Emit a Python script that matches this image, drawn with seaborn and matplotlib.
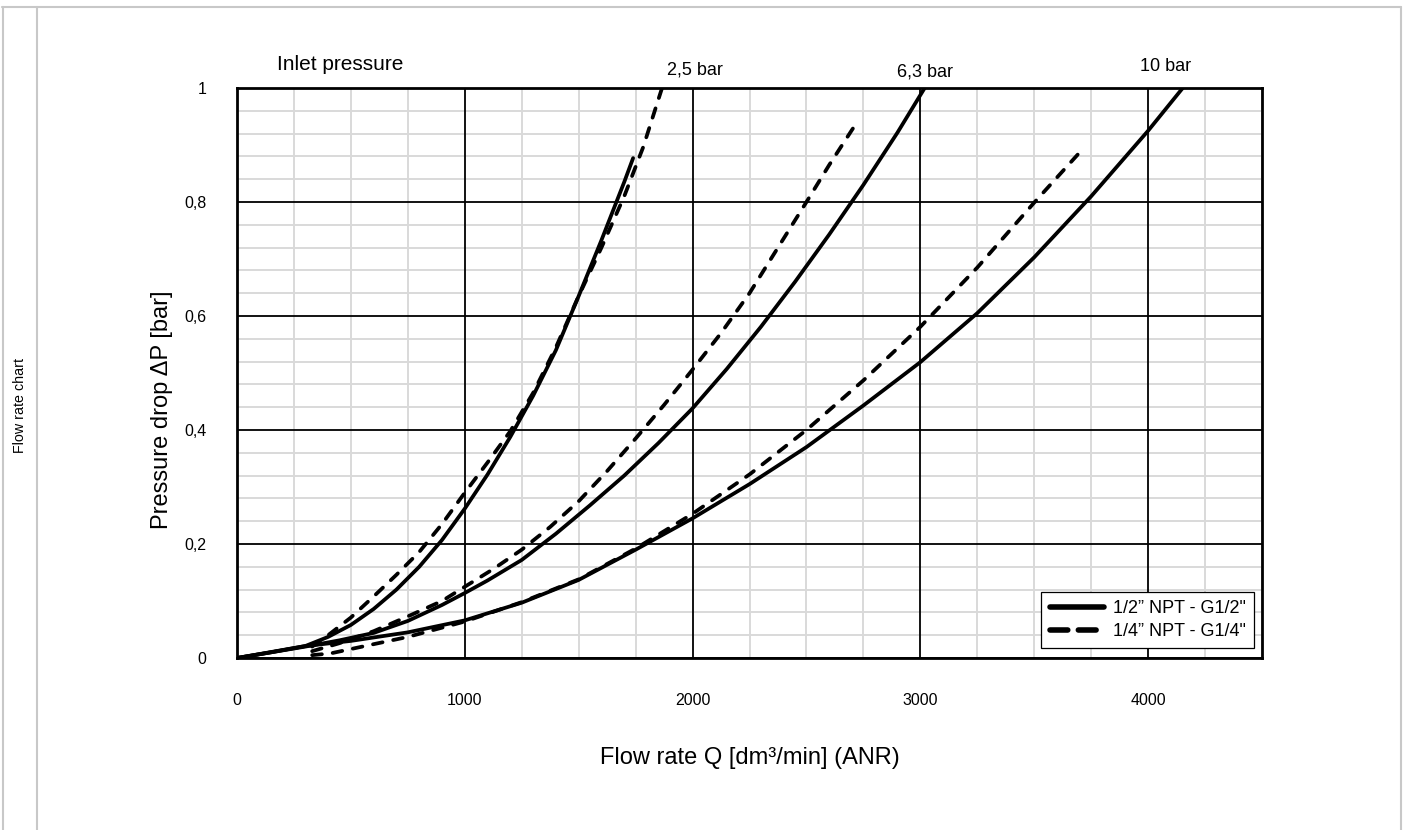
import numpy as np
import pandas as pd
import matplotlib
matplotlib.use("Agg")
import matplotlib.pyplot as plt
from matplotlib.lines import Line2D
from matplotlib.ticker import MultipleLocator, FixedLocator
import seaborn as sns

# Flow curves: flow rate Q [dm3/min] vs pressure drop dP [bar]
q_half_25 = [0, 100, 200, 300, 400, 500, 600, 700, 800, 900, 1000, 1100, 1200, 1300, 1400, 1500, 1600, 1700, 1739]
dp_half_25 = [0, 0.007, 0.014, 0.021, 0.037, 0.058, 0.086, 0.12, 0.16, 0.207, 0.262, 0.322, 0.388, 0.46, 0.54,
              0.635, 0.733, 0.835, 0.877]

q_quarter_25 = [330, 400, 500, 600, 700, 800, 900, 1000, 1100, 1200, 1300, 1400, 1500, 1600, 1700, 1783, 1866]
dp_quarter_25 = [0.02, 0.04, 0.071, 0.108, 0.146, 0.186, 0.235, 0.29, 0.343, 0.398, 0.465, 0.545, 0.635, 0.72,
                 0.81, 0.896, 1.0]

q_half_63 = [0, 150, 300, 450, 600, 750, 900, 1000, 1100, 1250, 1400, 1550, 1700, 1850, 2000, 2150, 2300, 2450,
             2600, 2750, 2900, 3019]
dp_half_63 = [0, 0.01, 0.02, 0.031, 0.044, 0.065, 0.093, 0.114, 0.136, 0.172, 0.218, 0.268, 0.32, 0.377, 0.438,
              0.507, 0.581, 0.66, 0.743, 0.83, 0.922, 1.0]

q_quarter_63 = [330, 450, 600, 750, 900, 1000, 1125, 1250, 1375, 1500, 1625, 1750, 1875, 2000, 2125, 2250, 2375,
                2500, 2600, 2704]
dp_quarter_63 = [0.012, 0.026, 0.047, 0.073, 0.1, 0.125, 0.156, 0.19, 0.23, 0.275, 0.328, 0.385, 0.444, 0.506,
                 0.57, 0.64, 0.72, 0.8, 0.865, 0.929]

q_half_10 = [0, 150, 300, 500, 750, 1000, 1250, 1500, 1750, 2000, 2250, 2500, 2750, 3000, 3250, 3500, 3750, 4000,
             4152]
dp_half_10 = [0, 0.01, 0.021, 0.03, 0.045, 0.066, 0.097, 0.137, 0.19, 0.245, 0.305, 0.37, 0.443, 0.519, 0.605,
              0.703, 0.81, 0.925, 1.0]

q_quarter_10 = [330, 410, 585, 750, 1000, 1250, 1500, 1750, 2000, 2250, 2500, 2750, 3000, 3250, 3500, 3720]
dp_quarter_10 = [0.005, 0.008, 0.023, 0.037, 0.064, 0.098, 0.138, 0.192, 0.253, 0.322, 0.4, 0.487, 0.581, 0.685,
                 0.799, 0.896]

fittings = ["1/2\u201d NPT - G1/2\"", "1/4\u201d NPT - G1/4\""]
pressure_labels = ["2,5 bar", "6,3 bar", "10 bar"]
x_ticks = [0, 1000, 2000, 3000, 4000]
x_tick_labels = ["0", "1000", "2000", "3000", "4000"]
y_ticks = [0, 0.2, 0.4, 0.6, 0.8, 1.0]
y_tick_labels = ["0", "0,2", "0,4", "0,6", "0,8", "1"]

series = [
    (q_half_25, dp_half_25, fittings[0], "2,5"),
    (q_quarter_25, dp_quarter_25, fittings[1], "2,5"),
    (q_half_63, dp_half_63, fittings[0], "6,3"),
    (q_quarter_63, dp_quarter_63, fittings[1], "6,3"),
    (q_half_10, dp_half_10, fittings[0], "10"),
    (q_quarter_10, dp_quarter_10, fittings[1], "10"),
]
frames = []
for q, dp, fit, p in series:
    frames.append(pd.DataFrame({"Q": q, "dP": dp, "fitting": fit, "curve": f"{fit} {p}"}))
df = pd.concat(frames, ignore_index=True)

sns.set_style("white")
plt.rcParams["font.family"] = ["Liberation Sans", "DejaVu Sans"]
plt.rcParams["text.color"] = "black"
plt.rcParams["axes.labelcolor"] = "black"
plt.rcParams["xtick.color"] = "black"
plt.rcParams["ytick.color"] = "black"
plt.rcParams["lines.dash_capstyle"] = "round"
plt.rcParams["lines.solid_capstyle"] = "round"
plt.rcParams["lines.solid_joinstyle"] = "round"

fig = plt.figure(figsize=(14.08, 8.30), dpi=100)
ax = fig.add_axes([237 / 1408, 1 - 658 / 830, 1025 / 1408, 570 / 830])

sns.lineplot(
    data=df, x="Q", y="dP", units="curve", estimator=None, sort=False,
    style="fitting", dashes={fittings[0]: "", fittings[1]: (2.6, 2.9)},
    color="black", linewidth=2.7, legend=False, ax=ax, zorder=3,
)

ax.set_xlim(0, 4500)
ax.set_ylim(0, 1)
ax.xaxis.set_major_locator(FixedLocator(x_ticks))
ax.set_xticklabels(x_tick_labels)
ax.yaxis.set_major_locator(FixedLocator(y_ticks))
ax.set_yticklabels(y_tick_labels)
ax.xaxis.set_minor_locator(MultipleLocator(250))
ax.yaxis.set_minor_locator(MultipleLocator(0.04))

# light minor grid underneath, black major grid on top of it
ax.set_axisbelow(True)
ax.grid(which="minor", color="#d9d9d9", linewidth=1.4)
ax.grid(which="major", visible=False)
ax.vlines(x_ticks, 0, 1, colors="black", linewidth=1.3, zorder=1)
ax.hlines(y_ticks, 0, 4500, colors="black", linewidth=1.3, zorder=1)

for s in ax.spines.values():
    s.set_visible(True)
    s.set_color("black")
    s.set_linewidth(2.0)
    s.set_zorder(4)

ax.tick_params(which="major", direction="out", length=6, width=1.5, color="black",
               labelcolor="black", labelsize=11.5, pad=16)
ax.tick_params(axis="x", which="major", pad=19)
ax.tick_params(which="minor", length=0)

ax.set_ylabel("Pressure drop \u0394P [bar]", fontsize=17, color="black")
ax.yaxis.set_label_coords(-0.0624, 0.435)
ax.set_xlabel("Flow rate Q [dm\u00b3/min] (ANR)", fontsize=17, color="black")
ax.xaxis.set_label_coords(0.5, -0.156)

ax.text(176, 1.042, "Inlet pressure", fontsize=15, ha="left", va="center", clip_on=False)
for xpos, ypos, lab in zip([2011, 3021, 4075], [1.032, 1.028, 1.037], pressure_labels):
    ax.text(xpos, ypos, lab, fontsize=13, ha="center", va="center", clip_on=False)

handles = [
    Line2D([], [], color="black", lw=4, solid_capstyle="round"),
    Line2D([], [], color="black", lw=4, dashes=(3.2, 1.9), dash_capstyle="round"),
]
leg = ax.legend(handles, fittings, loc="lower right", bbox_to_anchor=(0.992, 0.0175),
                borderaxespad=0, fontsize=13, handlelength=3.0, handletextpad=0.5,
                labelspacing=0.3, borderpad=0.45, fancybox=False, framealpha=1)
leg.get_frame().set_edgecolor("black")
leg.get_frame().set_linewidth(0.9)
leg.set_zorder(5)

# Page frame and side caption column
frame_kw = dict(color="#c8c8c8", linewidth=1.5, transform=fig.transFigure)
fig.add_artist(Line2D([2 / 1408, 1401 / 1408], [1 - 7 / 830, 1 - 7 / 830], **frame_kw))
fig.add_artist(Line2D([2.5 / 1408, 2.5 / 1408], [0, 1 - 7 / 830], **frame_kw))
fig.add_artist(Line2D([1401 / 1408, 1401 / 1408], [0, 1 - 7 / 830], **frame_kw))
fig.add_artist(Line2D([37 / 1408, 37 / 1408], [0, 1 - 7 / 830], **frame_kw))
fig.text(20 / 1408, 1 - 405 / 830, "Flow rate chart", rotation=90, fontsize=10.3,
         ha="center", va="center")

fig.savefig("out.png", dpi=100)
